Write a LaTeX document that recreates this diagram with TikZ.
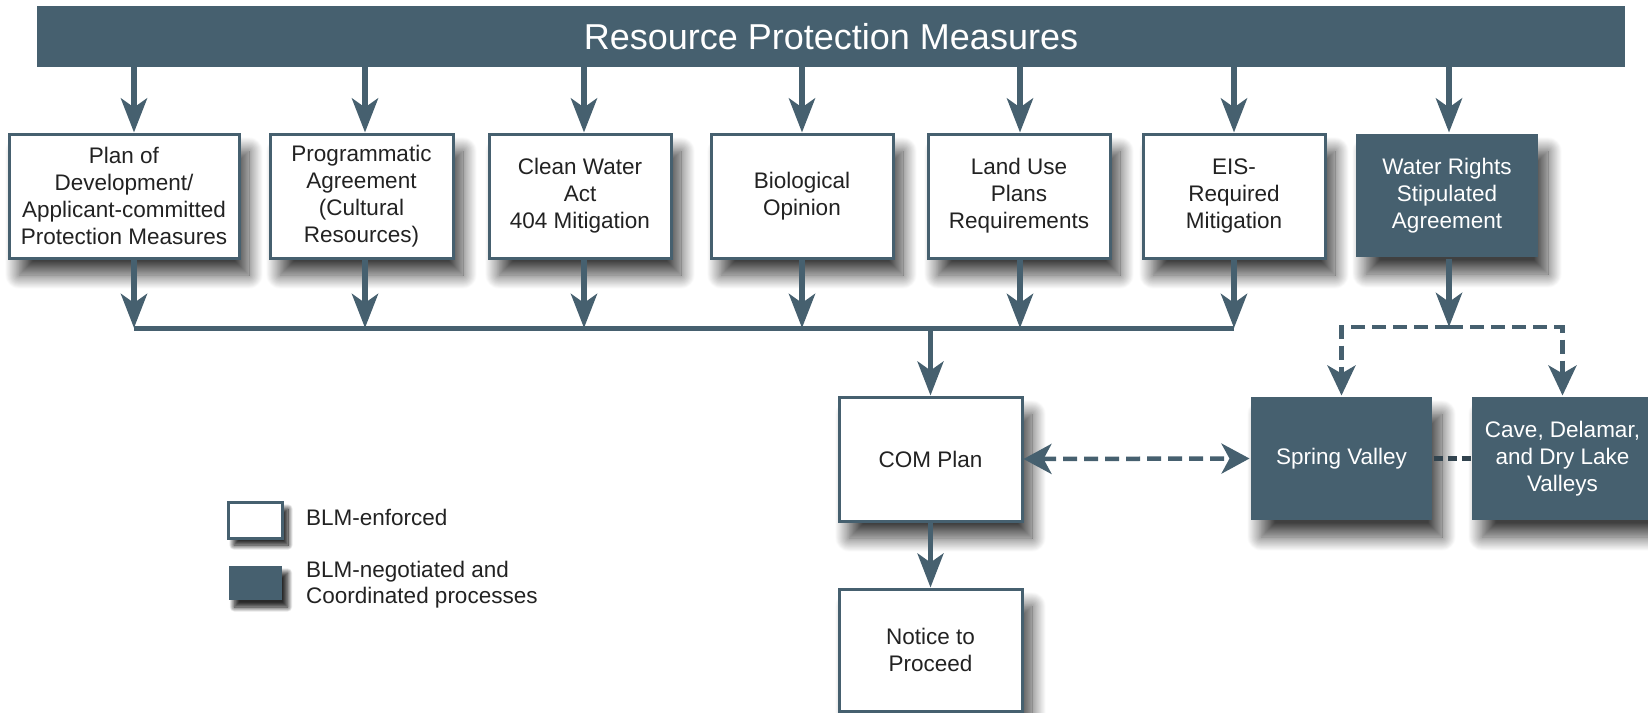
\documentclass[tikz,border=0pt]{standalone}
\usepackage{fontspec}
\setmainfont{Liberation Sans}
\usetikzlibrary{arrows.meta,shadows.blur,calc}
\definecolor{slate}{HTML}{46606F}
\definecolor{txt}{HTML}{222222}
\begin{document}
\begin{tikzpicture}[x=1pt,y=-1pt,
  boxshadow/.style={blur shadow={shadow xshift=10pt, shadow yshift=-17pt, shadow blur radius=14pt, shadow blur steps=20, shadow opacity=75}},
  wbox/.style={draw=slate, line width=3pt, fill=white, text=txt, align=center,
    font=\fontsize{22.5}{27}\selectfont, inner sep=0pt, boxshadow},
  dbox/.style={wbox, draw=none, fill=slate, text=white},
  arr/.style={draw=slate, line width=6pt, -{Stealth[length=34pt,width=26pt,inset=9pt]}},
  barline/.style={draw=slate, line width=5pt},
  dsh/.style={draw=slate, line width=4.5pt, dash pattern=on 14pt off 7pt},
  darr/.style={dsh, -{Stealth[length=30pt,width=28pt,inset=8pt]}},
  dbl/.style={dsh, {Stealth[length=28pt,width=30pt,inset=8pt]}-{Stealth[length=28pt,width=30pt,inset=8pt]}},
  legshadow/.style={blur shadow={shadow xshift=6pt, shadow yshift=-7pt, shadow blur radius=5pt, shadow opacity=60}},
  legtext/.style={anchor=west, text=txt, align=left, font=\fontsize{22.5}{26}\selectfont, inner sep=0pt}
]
\useasboundingbox (0,0) rectangle (1648,712);

% title bar
\node[fill=slate, text=white, minimum width=1588pt, minimum height=61pt, inner sep=0pt,
  font=\fontsize{36}{40}\selectfont] (title) at (831,36.5) {Resource Protection Measures};

% row of boxes
\node[wbox, minimum width=230pt, minimum height=124pt] (b1) at (124,196)
  {Plan of\\Development/\\Applicant-committed\\Protection Measures};
\node[wbox, minimum width=183pt, minimum height=124pt] (b2) at (361.5,196)
  {Programmatic\\Agreement\\(Cultural\\Resources)};
\node[wbox, minimum width=182pt, minimum height=124pt] (b3) at (580,196)
  {Clean Water\\Act\\404 Mitigation};
\node[wbox, minimum width=182pt, minimum height=124pt] (b4) at (802,196)
  {Biological\\Opinion};
\node[wbox, minimum width=182pt, minimum height=124pt] (b5) at (1019,196)
  {Land Use\\Plans\\Requirements};
\node[wbox, minimum width=182pt, minimum height=124pt] (b6) at (1234,196)
  {EIS-\\Required\\Mitigation};
\node[dbox, minimum width=182pt, minimum height=123pt] (b7) at (1447,195.5)
  {Water Rights\\Stipulated\\Agreement};

% lower boxes
\node[wbox, minimum width=183pt, minimum height=124pt] (com) at (930.5,459) {COM Plan};
\node[wbox, minimum width=183pt, minimum height=122pt] (ntp) at (930.5,650) {Notice to\\Proceed};
\node[dbox, minimum width=181pt, minimum height=123pt] (sv) at (1341.5,458.5) {Spring Valley};
\node[dbox, minimum width=181pt, minimum height=123pt] (cave) at (1562.5,458.5)
  {Cave, Delamar,\\and Dry Lake\\Valleys};

% legend
\node[wbox, minimum width=54pt, minimum height=36pt, legshadow] (lg1) at (255,520) {};
\node[dbox, minimum width=53pt, minimum height=34pt, legshadow] (lg2) at (255,583) {};
\node[legtext] (lt1) at (306,517) {BLM-enforced};
\node[legtext] (lt2) at (306,585) {BLM-negotiated and\\Coordinated processes};

% collector coordinates
\coordinate (k1) at (134,328);
\coordinate (k2) at (365,328);
\coordinate (k3) at (584,328);
\coordinate (k4) at (802,328);
\coordinate (k5) at (1020,328);
\coordinate (k6) at (1234,328);
\coordinate (k7) at (1449,327);

% arrows from title
\foreach \i in {1,...,7} {
  \draw[arr] (title.south -| k\i) -- (b\i.north -| k\i);
}
% arrows down to collector
\foreach \i in {1,...,6} {
  \draw[arr] (b\i.south -| k\i) -- (k\i);
}
\draw[barline] (k1) -- (k6);
\draw[arr, line width=5pt] (com.north |- k1) -- (com.north);
\draw[arr, line width=5pt] (com.south) -- (ntp.north);

% water rights branch
\draw[arr] (b7.south -| k7) -- (k7);
\draw[darr] (k7) -| (sv.north);
\draw[darr] (k7) -| (cave.north);

% dashed links
\draw[dbl] (com.east) -- (sv.west);
\draw[dsh, draw=slate!70!black, dash pattern=on 9pt off 5pt] (sv.east) -- (cave.west);
\end{tikzpicture}
\end{document}
